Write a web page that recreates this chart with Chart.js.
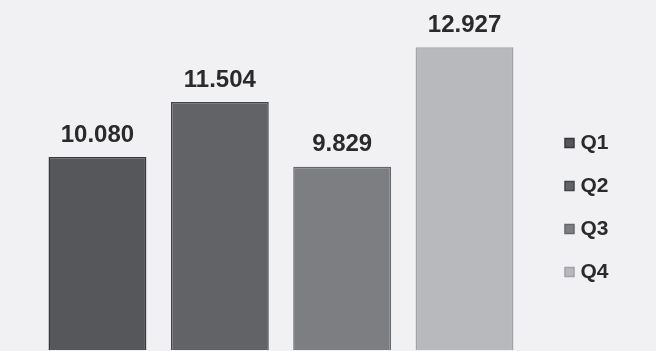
<!DOCTYPE html>
<html>
<head>
<meta charset="utf-8">
<script src="https://cdn.jsdelivr.net/npm/chart.js@4.4.1/dist/chart.umd.min.js"></script>
<style>
  html, body { margin: 0; padding: 0; background: #f1f1f4; overflow: hidden; }
  #wrap { width: 656px; height: 351px; }
</style>
</head>
<body>
<div id="wrap"><canvas id="chart" width="656" height="351"></canvas></div>
<script>
// Quarterly values, one series per quarter
const quarters = ['Q1', 'Q2', 'Q3', 'Q4'];
const values = [10.080, 11.504, 9.829, 12.927];
const fillColors = ['#56575b', '#626367', '#7d7e82', '#b8b9bd'];
const edgeColors = ['#36373b', '#434448', '#66676b', '#a2a3a7'];
// Visible value range of the plot
const axisMin = 5.08;
const axisMax = 14.15;

const datasets = quarters.map((q, i) => ({
  label: q,
  data: [values[i]],
  backgroundColor: fillColors[i],
  borderColor: edgeColors[i],
  borderWidth: 1.5,
  borderSkipped: false,
  categoryPercentage: 0.92,
  barPercentage: 0.8
}));

// Writes each bar's value centred above it
const valueLabels = {
  id: 'valueLabels',
  afterDatasetsDraw(chart) {
    const ctx = chart.ctx;
    ctx.save();
    ctx.font = 'bold 24px "Liberation Sans", Arial, sans-serif';
    ctx.fillStyle = '#2a2a2c';
    ctx.textAlign = 'center';
    ctx.textBaseline = 'middle';
    chart.data.datasets.forEach((ds, i) => {
      const bar = chart.getDatasetMeta(i).data[0];
      ctx.fillText(ds.data[0].toFixed(3), bar.x, bar.y - 22);
    });
    ctx.restore();
  }
};

new Chart(document.getElementById('chart'), {
  type: 'bar',
  data: { labels: [''], datasets },
  options: {
    responsive: false,
    animation: false,
    layout: { padding: { left: 15, right: 37.5, top: 0, bottom: 1 } },
    scales: {
      x: { display: false, grid: { display: false } },
      y: { display: false, min: axisMin, max: axisMax, grid: { display: false } }
    },
    plugins: {
      tooltip: { enabled: false },
      legend: {
        position: 'right',
        title: { display: true, text: '', font: { size: 10 }, padding: { top: 53, bottom: 0 } },
        labels: {
          usePointStyle: true,
          pointStyle: 'rect',
          boxWidth: 1,
          boxHeight: 9,
          padding: 22,
          color: '#2a2a2c',
          font: { size: 21, weight: 'bold', family: '"Liberation Sans", Arial, sans-serif' }
        }
      }
    }
  },
  plugins: [valueLabels]
});
</script>
</body>
</html>
